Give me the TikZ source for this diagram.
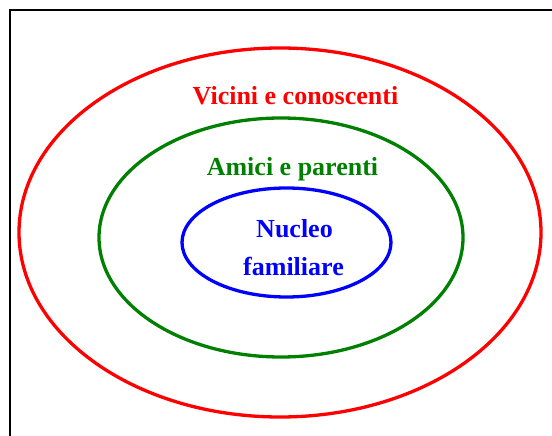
\documentclass[tikz,border=0pt]{standalone}
\usepackage{fontspec}
\setmainfont{Liberation Serif}
\tikzset{
  ring/.style={line width=3.3pt},
  lbl/.style={font=\fontsize{26}{31}\selectfont\bfseries, anchor=base, inner sep=0pt}
}
\begin{document}
\begin{tikzpicture}[x=1pt,y=-1pt]
        \useasboundingbox (0,0) rectangle (552,436);
        \draw[line width=2pt] (10,436) -- (10,10) -- (552,10);
        \draw[ring,red] (280,232.5) ellipse [x radius=261, y radius=184.5];
        \draw[ring,green!50!black] (281,237.5) ellipse [x radius=182, y radius=119.5];
        \draw[ring,blue] (286.5,242.5) ellipse [x radius=104.5, y radius=54.5];
        \node[lbl,red] (vicini) at (295.5,104) {Vicini e conoscenti};
        \node[lbl,green!50!black] (amici) at (292.5,175) {Amici e parenti};
        \node[lbl,blue] (nucleo) at (294.5,237) {Nucleo};
        \node[lbl,blue] (familiare) at (293.5,275) {familiare};
\end{tikzpicture}
\end{document}
